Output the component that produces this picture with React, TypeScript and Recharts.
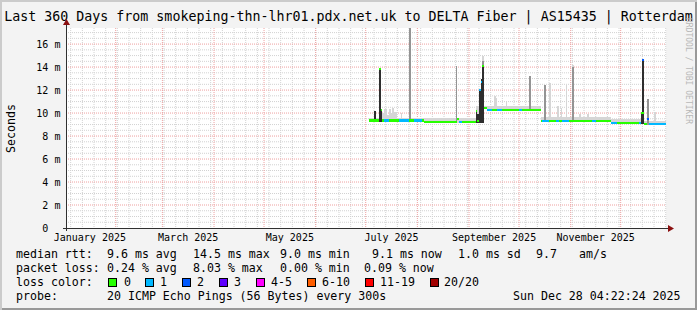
import { ComposedChart, Area, XAxis, YAxis, CartesianGrid } from 'recharts';

const W = 697;
const H = 310;
const mono = '"DejaVu Sans Mono", monospace';

// time axis in days since 1 Jan 2025 00:00; the graph covers 360 days up to Dec 28 04:22
const xDomain: [number, number] = [1.182, 361.182];
const monthStarts = [31, 59, 90, 120, 151, 181, 212, 243, 273, 304, 334];
const monthLabelDays = [15.5, 74.5, 135.5, 196.5, 258, 319];
const monthLabelText = ['January 2025', 'March 2025', 'May 2025', 'July 2025', 'September 2025', 'November 2025'];
const yTicks = [0, 2, 4, 6, 8, 10, 12, 14, 16];
const yMax = 17.4;

// median rtt in ms, flat over [first day, last day]
const medianRuns: [number, number, number][] = [
  [183, 215, 9.35],
  [216, 251, 9.25],
  [252, 253, 10.45],
  [254, 285, 10.3],
  [286, 327, 9.3],
  [328, 347, 9.15],
  [348, 361, 9.05],
];
// days where the median left the flat level, [day, ms]
const medianJumps: [number, number][] = [
  [189, 13.8], [190, 10.3], [236, 9.45],
  [247, 10.15], [248, 9.3], [249, 12.0], [250, 12.7], [251, 14.1],
  [346, 10.0], [347, 14.6], [350, 9.45],
];
// lost pings out of 20
const loss1Runs: [number, number][] = [
  [192, 194], [201, 206], [210, 214], [237, 238], [249, 250], [254, 256], [260, 262],
  [273, 274], [287, 290], [295, 296], [299, 302], [317, 318], [328, 331], [345, 345], [351, 361],
];
const loss2Days = [347, 350];

// top of the light smoke, [first day, last day, ms]
const smokeRuns: [number, number, number][] = [
  [183, 190, 9.55],
  [191, 191, 10.0], [192, 193, 10.35], [194, 194, 9.8], [195, 195, 10.35],
  [196, 196, 10.0], [197, 197, 10.4], [198, 199, 10.1],
  [200, 246, 9.6],
  [247, 253, 10.6],
  [254, 285, 10.65],
  [286, 327, 9.7],
  [328, 347, 9.45],
  [348, 361, 9.35],
];
// single day smoke columns: [day, light top, mid top, dark top]
const smokeSpikes: [number, number, number | null, number | null][] = [
  [186, 10.2, null, 10.2],
  [189, 13.8, null, 13.8],
  [190, 10.3, null, 10.3],
  [202, 10.0, null, null],
  [207, 17.5, 17.5, null],
  [235, 14.1, 14.1, null],
  [247, 10.15, null, 10.15],
  [248, 9.9, null, 9.9],
  [249, 12.0, null, 12.0],
  [250, 13.0, null, 13.0],
  [251, 15.0, 14.5, 14.2],
  [258, 11.5, null, null],
  [259, 11.3, null, null],
  [265, 11.0, null, null],
  [279, 13.2, 13.2, null],
  [288, 12.4, 12.4, null],
  [291, 12.6, null, null],
  [296, 10.6, null, null],
  [298, 10.4, null, null],
  [301, 12.4, null, null],
  [305, 14.2, 14.0, null],
  [309, 9.9, null, null],
  [314, 9.9, null, null],
  [346, 10.0, null, 10.0],
  [347, 14.6, null, 14.6],
  [350, 11.2, 11.2, null],
  [354, 10.1, null, null],
];

const lossColors = ['#26ff00', '#00b8ff', '#0059ff', '#5e00ff', '#ff00ff', '#ff5e00', '#ff0000', '#a10000'];
const lossLabels = ['0', '1', '2', '3', '4-5', '6-10', '11-19', '20/20'];
const swatchX = [108, 145, 182, 219, 256, 307, 365, 430];
const swatchLabelX = [124, 160, 197, 234, 271, 322, 380, 444];

const rttLegend: [number, string][] = [
  [16, 'median rtt:'], [107, '9.6 ms avg'], [193, '14.5 ms max'], [280, '9.0 ms min'],
  [372, '9.1 ms now'], [458, '1.0 ms sd'], [536, '9.7'], [579, 'am/s'],
];
const lossLegend: [number, string][] = [
  [16, 'packet loss:'], [107, '0.24 % avg'], [193, '8.03 % max'], [280, '0.00 % min'], [364, '0.09 % now'],
];
const probeLegend: [number, string][] = [
  [16, 'probe:'], [107, '20 ICMP Echo Pings (56 Bytes) every 300s'], [513, 'Sun Dec 28 04:22:24 2025'],
];

const sundays = Array.from({ length: 52 }, (_, i) => 4 + 7 * i);
const yMinor = Array.from({ length: 34 }, (_, i) => (i + 1) * 0.5).filter((v) => v % 2 !== 0);
const yMajor = yTicks.filter((v) => v > 0);

const BAND = 0.09;
const inRuns = (runs: [number, number, ...unknown[]][], d: number) => runs.find((r) => d >= r[0] && d <= r[1]);
const lossAt = (d: number) => (loss2Days.includes(d) ? 2 : inRuns(loss1Runs, d) ? 1 : 0);

const rows: Record<string, unknown>[] = [];
const medians: Record<number, number> = {};
for (let d = 183; d <= 361; d++) {
  const base = (inRuns(medianRuns, d) as [number, number, number])[2];
  const jump = medianJumps.find((j) => j[0] === d);
  const median = jump ? jump[1] : base;
  medians[d] = median;
  const spike = smokeSpikes.find((s) => s[0] === d);
  const lo = Math.min(base, median) - 0.1;
  const runTop = (inRuns(smokeRuns, d) as [number, number, number] | undefined)?.[2] ?? 0;
  const row: Record<string, unknown> = {
    day: d,
    light: [lo, Math.max(runTop, spike ? spike[1] : 0, median + BAND)],
    mid: [lo, spike && spike[2] != null ? spike[2] : lo],
    dark: [lo, spike && spike[3] != null ? spike[3] : lo],
  };
  for (const level of [0, 1, 2]) {
    let v: number | null = null;
    if (lossAt(d) === level) v = median;
    else if (d > 183 && lossAt(d - 1) === level) v = medians[d - 1];
    row[`m${level}`] = v == null ? null : [v - BAND, v + BAND];
  }
  rows.push(row);
}

const XTick = (props: any) => {
  const { x, y, payload } = props;
  const i = monthLabelDays.indexOf(payload.value);
  return (
    <text x={x} y={y + 9.5} textAnchor="middle" dominantBaseline="central" fontFamily={mono} fontSize={10} fill="#000">
      {monthLabelText[i]}
    </text>
  );
};

const YTick = (props: any) => {
  const { y, payload } = props;
  return (
    <g fontFamily={mono} fontSize={10} fill="#000">
      <text x={48.3} y={y} textAnchor="end" dominantBaseline="central">
        {payload.value}
      </text>
      {payload.value > 0 && (
        <text x={54.5} y={y} dominantBaseline="central">
          m
        </text>
      )}
    </g>
  );
};

const Txt = ({ x, y, children, size = 11.6 }: { x: number; y: number; children: string; size?: number }) => (
  <div
    style={{
      position: 'absolute',
      left: x,
      top: y - 7,
      height: 14,
      lineHeight: '14px',
      fontFamily: mono,
      fontSize: size,
      whiteSpace: 'pre',
      color: '#000',
    }}
  >
    {children}
  </div>
);

export default function App() {
  return (
    <div
      style={{
        position: 'absolute',
        left: 0,
        top: 0,
        width: W,
        height: H,
        background: '#f3f3f3',
        boxShadow: 'inset 2px 2px 0 #cbcbcb, inset -2px -2px 0 #999999',
        overflow: 'hidden',
      }}
    >
      <div
        style={{
          position: 'absolute',
          left: 0,
          top: 9,
          width: W,
          textAlign: 'center',
          lineHeight: '16px',
          fontFamily: mono,
          fontSize: 13.3,
          whiteSpace: 'pre',
          color: '#000',
        }}
      >
        Last 360 Days from smokeping-thn-lhr01.pdx.net.uk to DELTA Fiber | AS15435 | Rotterdam
      </div>
      <div
        style={{
          position: 'absolute',
          left: 684,
          top: 18,
          writingMode: 'vertical-rl',
          fontFamily: mono,
          fontSize: 8,
          color: '#b8b8b8',
          whiteSpace: 'pre',
        }}
      >
        RRDTOOL / TOBI OETIKER
      </div>
      <div
        style={{
          position: 'absolute',
          left: 3.5,
          top: 104,
          width: 14,
          writingMode: 'vertical-rl',
          transform: 'rotate(180deg)',
          fontFamily: mono,
          fontSize: 11.6,
          lineHeight: '14px',
          color: '#000',
        }}
      >
        Seconds
      </div>

      <div style={{ position: 'absolute', left: 0, top: 0 }}>
        <ComposedChart width={W} height={H} data={rows} margin={{ top: 28, right: 31, bottom: 0, left: 0 }}>
          <CartesianGrid
            fill="#ffffff"
            stroke="#d2d2d2"
            strokeDasharray="1 1"
            horizontalValues={yMinor}
            verticalValues={sundays}
          />
          <CartesianGrid
            stroke="#eea0a0"
            strokeDasharray="1 1"
            horizontalValues={yMajor}
            verticalValues={monthStarts}
          />
          <XAxis
            dataKey="day"
            type="number"
            domain={xDomain}
            allowDataOverflow
            ticks={monthLabelDays}
            tick={<XTick />}
            tickLine={false}
            axisLine={false}
            tickSize={0}
            tickMargin={0}
            height={82}
            interval={0}
          />
          <YAxis
            type="number"
            domain={[0, yMax]}
            allowDataOverflow
            ticks={yTicks}
            tick={<YTick />}
            tickLine={false}
            axisLine={false}
            tickSize={0}
            width={66}
            interval={0}
          />
          <Area dataKey="light" type="stepAfter" fill="#d6d6d6" fillOpacity={1} stroke="none" shapeRendering="crispEdges" isAnimationActive={false} />
          <Area dataKey="mid" type="stepAfter" fill="#949494" fillOpacity={1} stroke="none" shapeRendering="crispEdges" isAnimationActive={false} />
          <Area dataKey="dark" type="stepAfter" fill="#2e2e2e" fillOpacity={1} stroke="none" shapeRendering="crispEdges" isAnimationActive={false} />
          {[0, 1, 2].map((level) => (
            <Area
              key={level}
              dataKey={`m${level}`}
              type="stepAfter"
              fill={lossColors[level]}
              fillOpacity={1}
              stroke="none"
              shapeRendering="crispEdges"
              connectNulls={false}
              isAnimationActive={false}
            />
          ))}
        </ComposedChart>
      </div>

      <svg width={W} height={H} style={{ position: 'absolute', left: 0, top: 0, pointerEvents: 'none' }}>
        <line x1={63} y1={228.5} x2={669} y2={228.5} stroke="#303030" />
        <polygon points="668,225 674,228.5 668,232" fill="#8b1010" />
        <line x1={66.5} y1={231} x2={66.5} y2={24} stroke="#303030" />
        <polygon points="63,25 66.5,19 70,25" fill="#8b1010" />
      </svg>

      {rttLegend.map(([x, t]) => (
        <Txt key={t} x={x} y={254}>{t}</Txt>
      ))}
      {lossLegend.map(([x, t]) => (
        <Txt key={t} x={x} y={268}>{t}</Txt>
      ))}
      <Txt x={16} y={282}>loss color:</Txt>
      {lossColors.map((c, i) => (
        <div key={c}>
          <div
            style={{
              position: 'absolute',
              left: swatchX[i],
              top: 277.5,
              width: 9,
              height: 9,
              boxSizing: 'border-box',
              border: '1px solid #000',
              background: c,
            }}
          />
          <Txt x={swatchLabelX[i]} y={282}>{lossLabels[i]}</Txt>
        </div>
      ))}
      {probeLegend.map(([x, t]) => (
        <Txt key={t} x={x} y={296}>{t}</Txt>
      ))}
    </div>
  );
}
